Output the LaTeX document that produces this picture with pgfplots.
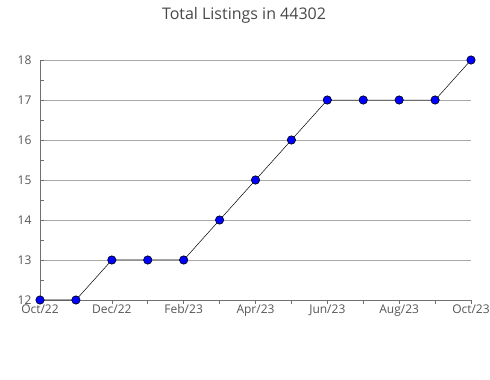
\documentclass[border=0pt]{standalone}
\usepackage{fontspec}
\setmainfont{Open Sans}
\usepackage{pgfplots}
\pgfplotsset{compat=1.18}
\definecolor{gridc}{HTML}{A8A8A8}
\definecolor{axc}{HTML}{707070}
\definecolor{txt}{HTML}{555555}
\begin{document}
\begin{tikzpicture}
\useasboundingbox (0pt,0pt) rectangle (490pt,380pt);
\node[font=\fontsize{16}{18}\selectfont, text=txt!85!black] at (244pt,365pt) {Total Listings in 44302};
\begin{axis}[
  at={(40pt,80pt)}, anchor=origin,
  scale only axis, width=431pt, height=240pt,
  xmin=0, xmax=12, ymin=12, ymax=18,
  axis x line*=bottom, axis y line*=left,
  axis line style={axc, line width=0.6pt},
  xtick={0,...,12},
  xticklabels={Oct/22,,Dec/22,,Feb/23,,Apr/23,,Jun/23,,Aug/23,,Oct/23},
  ytick={12,...,18},
  minor ytick={12.5,13.5,...,17.5},
  ymajorgrids, major grid style={gridc, line width=0.6pt},
  tick style={axc, line width=0.6pt},
  xtick align=outside, major tick length=4pt,
  ytick align=inside, minor tick length=4pt,
  tick label style={font=\fontsize{12}{13}\selectfont, text=txt},
  xticklabel style={yshift=3pt},
  yticklabel style={xshift=-5pt},
  /pgf/number format/assume math mode=true,
  clip=false,
]
\addplot[black, line width=0.5pt, mark=*, mark size=4.2pt, mark options={fill=blue, draw=black, line width=0.6pt}]
coordinates {(0,12)(1,12)(2,13)(3,13)(4,13)(5,14)(6,15)(7,16)(8,17)(9,17)(10,17)(11,17)(12,18)};
\end{axis}
\end{tikzpicture}
\end{document}
